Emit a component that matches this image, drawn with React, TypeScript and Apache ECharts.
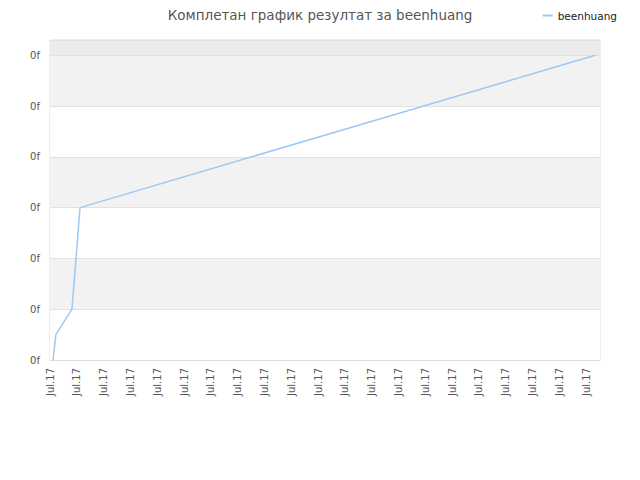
import {useEffect, useRef} from 'react';
import * as echarts from 'echarts';

// x is measured in days from the first sample, y is the score
const dayOffsets = [0.11, 0.22, 0.82, 1.12, 20.34];
const scores = [0, 0.5, 1, 3, 6];
const xTickLabel = 'Jul.17';
const yTickLabel = '0f';
const seriesName = 'beenhuang';
const chartTitle = 'Комплетан график резултат за beenhuang';

export default function App() {
    const ref = useRef<HTMLDivElement | null>(null);

    useEffect(() => {
        if (!ref.current) return;
        const chart = echarts.init(ref.current, undefined, {renderer: 'svg'});
        chart.setOption({
            animation: false,
            textStyle: {fontFamily: 'DejaVu Sans, sans-serif'},
            title: {
                text: chartTitle,
                left: 'center',
                top: 3,
                textStyle: {fontSize: 13.5, fontWeight: 'normal', color: '#555'}
            },
            legend: {
                right: 18,
                top: 5,
                itemWidth: 10,
                itemHeight: 2,
                itemGap: 10,
                icon: 'rect',
                textStyle: {fontSize: 10.5, color: '#222'},
                data: [seriesName]
            },
            grid: {left: 50, right: 40, top: 40, bottom: 120, show: true, borderColor: '#ddd', borderWidth: 1},
            xAxis: {
                type: 'value',
                min: 0,
                max: 20.52,
                interval: 1,
                axisLine: {show: true, lineStyle: {color: '#ddd'}},
                axisTick: {show: false},
                splitLine: {show: false},
                axisLabel: {
                    rotate: 90,
                    fontSize: 10,
                    color: '#555',
                    margin: 8,
                    showMaxLabel: false,
                    formatter: () => xTickLabel
                }
            },
            yAxis: {
                type: 'value',
                min: 0,
                max: 6.3,
                interval: 1,
                axisLine: {show: false},
                axisTick: {show: false},
                splitLine: {show: true, lineStyle: {color: '#e2e2e2'}},
                splitArea: {
                    show: true,
                    areaStyle: {color: ['#ffffff', '#f2f2f2', '#ffffff', '#f2f2f2', '#ffffff', '#f2f2f2', '#ececec']}
                },
                axisLabel: {
                    fontSize: 10,
                    color: '#555',
                    margin: 10,
                    showMaxLabel: false,
                    formatter: () => yTickLabel
                }
            },
            series: [
                {
                    name: seriesName,
                    type: 'line',
                    data: dayOffsets.map((d, i) => [d, scores[i]]),
                    showSymbol: false,
                    symbol: 'none',
                    lineStyle: {color: '#9cc8f5', width: 1.5},
                    itemStyle: {color: '#9cc8f5'}
                }
            ]
        });
        return () => chart.dispose();
    }, []);

    return <div ref={ref} style={{width: 640, height: 480, margin: -8}}/>;
}
